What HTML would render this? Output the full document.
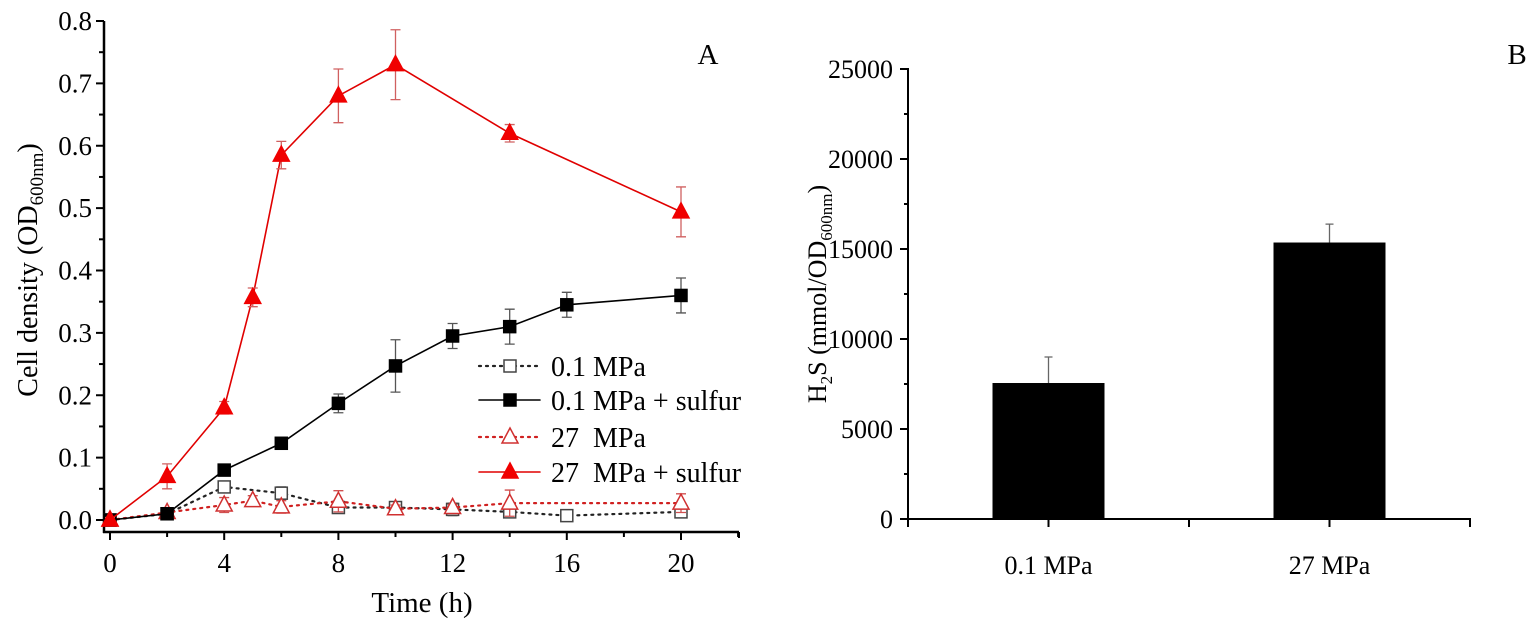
<!DOCTYPE html>
<html><head><meta charset="utf-8"><style>
html,body{margin:0;padding:0;background:#fff;}
svg{display:block;font-family:"Liberation Serif",serif;}
</style></head><body>
<svg id="fig" width="1535" height="628" viewBox="0 0 1535 628" xmlns="http://www.w3.org/2000/svg">
<g id="panelA"></g>
<g id="panelB"></g>
</svg>
<script>
// ---- Panel A data ----
const timeSulfur27 = [0,2,4,5,6,8,10,14,20];
const valSulfur27 = [0,0.07,0.18,0.357,0.585,0.68,0.73,0.62,0.494];
const errSulfur27 = [0.004,0.02,0.01,0.015,0.022,0.043,0.056,0.014,0.04];
const timeSulfur01 = [0,2,4,6,8,10,12,14,16,20];
const valSulfur01 = [0,0.01,0.08,0.123,0.187,0.247,0.295,0.31,0.345,0.36];
const errSulfur01 = [0.003,0.004,0.006,0.006,0.015,0.042,0.02,0.028,0.02,0.028];
const time01 = [0,2,4,6,8,10,12,14,16,20];
const val01 = [0,0.01,0.053,0.043,0.02,0.02,0.017,0.013,0.007,0.013];
const err01 = [0.003,0.004,0.006,0.01,0.005,0.006,0.01,0.006,0.004,0.007];
const time27 = [0,2,4,5,6,8,10,12,14,20];
const val27 = [0,0.012,0.024,0.031,0.021,0.03,0.018,0.02,0.027,0.027];
const err27 = [0.003,0.005,0.012,0.008,0.01,0.017,0.006,0.005,0.021,0.015];
const xTickLabelsA = [0,4,8,12,16,20];
const yTickLabelsA = ["0.0","0.1","0.2","0.3","0.4","0.5","0.6","0.7","0.8"];
// ---- Panel B data ----
const categoriesB = ["0.1 MPa","27 MPa"];
const valuesB = [7555,15360];
const errorsB = [1445,1020];
const yTickLabelsB = [0,5000,10000,15000,20000,25000];

const NS="http://www.w3.org/2000/svg";
function mk(parent,tag,attrs,text){const e=document.createElementNS(NS,tag);for(const k in attrs)e.setAttribute(k,attrs[k]);if(text!==undefined)e.textContent=text;parent.appendChild(e);return e;}

// ---- Panel A ----
const A=document.getElementById('panelA');
const xA=t=>110+t*28.55;
const yA=v=>520-v*623.75;
let axA=mk(A,'g',{});


mk(axA,'line',{x1:104,y1:21,x2:104,y2:533,stroke:'#000','stroke-width':2.5});
mk(axA,'line',{x1:103,y1:532,x2:739,y2:532,stroke:'#000','stroke-width':2.5});
for(let t=0;t<=22;t+=2){const maj=t%4===0;mk(axA,'line',{x1:xA(t),y1:532,x2:xA(t),y2:532+(maj?8:5),stroke:'#000','stroke-width':2});}
mk(axA,'line',{x1:739,y1:532,x2:739,y2:538,stroke:'#000','stroke-width':2});
xTickLabelsA.forEach(t=>{const e=mk(axA,'text',{x:xA(t),y:572,'font-size':27,'text-anchor':'middle'},String(t));});
for(let i=0;i<=16;i++){const v=i*0.05;const maj=i%2===0;mk(axA,'line',{x1:104,y1:yA(v),x2:104-(maj?8:5),y2:yA(v),stroke:'#000','stroke-width':2});}
yTickLabelsA.forEach((s,i)=>{const e=mk(axA,'text',{x:92,y:yA(i*0.1)+9,'font-size':27,'text-anchor':'end'},s);});
let xt=mk(axA,'text',{x:422,y:612,'font-size':29,'text-anchor':'middle'},'Time (h)');

let yt=mk(axA,'text',{x:0,y:0,'font-size':28,'text-anchor':'middle',transform:'translate(37,270) rotate(-90)'});

yt.appendChild(document.createTextNode('Cell density (OD'));
mk(yt,'tspan',{'font-size':19,dy:6},'600nm');
mk(yt,'tspan',{dy:-6},')');
let la=mk(A,'text',{x:708,y:64,'font-size':29,'text-anchor':'middle'},'A');


function series(ts,vs,es,opt,name){
  const g=mk(A,'g',{});
  
  
  const pts=ts.map((t,i)=>xA(t)+','+yA(vs[i])).join(' ');
  mk(g,'polyline',{points:pts,fill:'none',stroke:opt.line,'stroke-width':opt.dash?2.2:1.6,'stroke-dasharray':opt.dash?'2 5':'none','stroke-linecap':'round'});
  ts.forEach((t,i)=>{const x=xA(t),y1=yA(vs[i]+es[i]),y2=yA(vs[i]-es[i]);
    const eb=mk(g,'path',{d:`M${x},${y1}V${y2}M${x-5},${y1}H${x+5}M${x-5},${y2}H${x+5}`,stroke:opt.err,'stroke-width':1.3,fill:'none'});
    
  });
  ts.forEach((t,i)=>{const x=xA(t),y=yA(vs[i]);let m;
    if(opt.shape==='sq')m=mk(g,'rect',{x:x-6,y:y-6,width:12,height:12,fill:opt.fill,stroke:opt.stroke,'stroke-width':1.5});
    else m=mk(g,'polygon',{points:`${x},${y-9} ${x-8},${y+6} ${x+8},${y+6}`,fill:opt.fill,stroke:opt.stroke,'stroke-width':1.5});
    
  });
}
series(time01,val01,err01,{line:'#222',dash:true,err:'#555',shape:'sq',fill:'#fff',stroke:'#444'},'series-0-1-mpa');
series(time27,val27,err27,{line:'#d02020',dash:true,err:'#d05050',shape:'tri',fill:'#fff',stroke:'#d03030'},'series-27-mpa');
series(timeSulfur01,valSulfur01,errSulfur01,{line:'#000',dash:false,err:'#555',shape:'sq',fill:'#000',stroke:'#000'},'series-0-1-mpa-sulfur');
series(timeSulfur27,valSulfur27,errSulfur27,{line:'#e00000',dash:false,err:'#d06060',shape:'tri',fill:'#f00000',stroke:'#f00000'},'series-27-mpa-sulfur');

// legend
const lg=mk(A,'g',{});

const legRows=[['0.1 MPa',366,'#222',true,'sq','#fff','#444'],['0.1 MPa + sulfur',400,'#000',false,'sq','#000','#000'],['27\u00a0\u00a0MPa',437,'#d02020',true,'tri','#fff','#d03030'],['27\u00a0\u00a0MPa + sulfur',472,'#e00000',false,'tri','#f00000','#f00000']];
legRows.forEach(r=>{const g=mk(lg,'g',{});
  mk(g,'line',{x1:479,y1:r[1],x2:540,y2:r[1],stroke:r[2],'stroke-width':r[3]?2.2:1.6,'stroke-dasharray':r[3]?'2 5':'none','stroke-linecap':'round'});
  const x=510,y=r[1];
  if(r[4]==='sq')mk(g,'rect',{x:x-6,y:y-6,width:12,height:12,fill:r[5],stroke:r[6],'stroke-width':1.5});
  else mk(g,'polygon',{points:`${x},${y-9} ${x-8},${y+6} ${x+8},${y+6}`,fill:r[5],stroke:r[6],'stroke-width':1.5});
  mk(g,'text',{x:551,y:y+10,'font-size':28},r[0]);
});

// ---- Panel B ----
const B=document.getElementById('panelB');
const yB=v=>519-v*0.018;
const xB=c=>908+(c-0.5)*281;
let axB=mk(B,'g',{});

valuesB.forEach((v,i)=>{const cx=xB(i+1);
  const b=mk(B,'rect',{x:cx-56,y:yB(v),width:112,height:519-yB(v),fill:'#000'});
  
  const e=mk(B,'path',{d:`M${cx},${yB(v)}V${yB(v+errorsB[i])}M${cx-4},${yB(v+errorsB[i])}H${cx+4}`,stroke:'#666','stroke-width':1.3,fill:'none'});
  
  const t=mk(axB,'text',{x:cx,y:574,'font-size':26,'text-anchor':'middle'},categoriesB[i]);
  
});
mk(axB,'line',{x1:908,y1:68,x2:908,y2:520,stroke:'#000','stroke-width':2});
mk(axB,'line',{x1:907,y1:519,x2:1471,y2:519,stroke:'#000','stroke-width':2});
[0.5,1,1.5,2,2.5].forEach(c=>mk(axB,'line',{x1:xB(c),y1:519,x2:xB(c),y2:527,stroke:'#000','stroke-width':2}));
for(let v=0;v<=25000;v+=2500){const maj=v%5000===0;mk(axB,'line',{x1:908,y1:yB(v),x2:908-(maj?8:4),y2:yB(v),stroke:'#000','stroke-width':2});}
yTickLabelsB.forEach(v=>{const e=mk(axB,'text',{x:893,y:yB(v)+9,'font-size':26,'text-anchor':'end'},String(v));});
let ytB=mk(axB,'text',{x:0,y:0,'font-size':26,'text-anchor':'middle',transform:'translate(826,294) rotate(-90)'});

ytB.appendChild(document.createTextNode('H'));
mk(ytB,'tspan',{'font-size':17,dy:6},'2');
mk(ytB,'tspan',{dy:-6},'S (mmol/OD');
mk(ytB,'tspan',{'font-size':17,dy:6},'600nm');
mk(ytB,'tspan',{dy:-6},')');
let lb=mk(B,'text',{x:1517,y:64,'font-size':29,'text-anchor':'middle'},'B');

</script>
</body></html>
